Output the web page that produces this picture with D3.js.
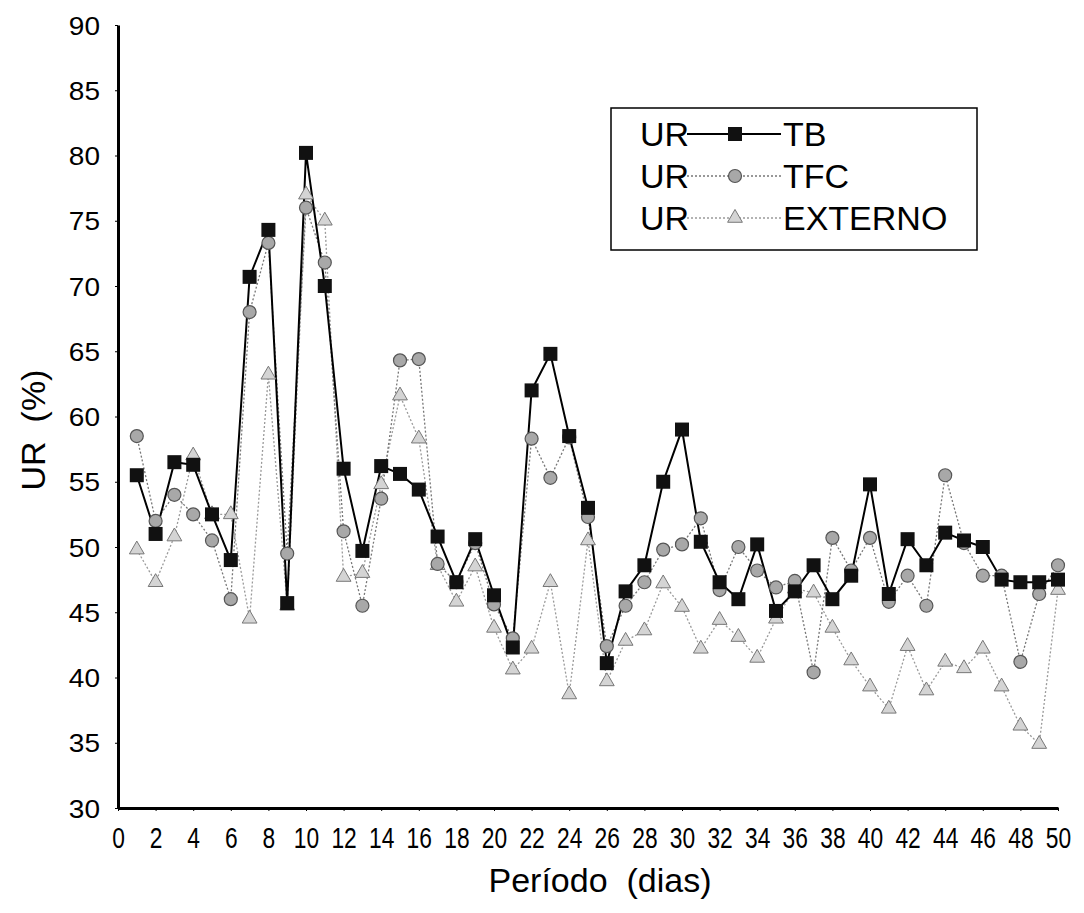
<!DOCTYPE html>
<html>
<head>
<meta charset="utf-8">
<script src="https://cdn.jsdelivr.net/npm/d3@7"></script>
<style>
  body { margin: 0; background: #fff; }
  text { font-family: "Liberation Sans", Arial, sans-serif; fill: #000; white-space: pre; }
</style>
</head>
<body>
<div id="chart"></div>
<script>
// data
var days = d3.range(1, 51);
var tb = [55.5, 51, 56.5, 56.3, 52.5, 49, 70.7, 74.3, 45.7, 80.2,
          70, 56, 49.7, 56.2, 55.6, 54.4, 50.8, 47.3, 50.6, 46.3,
          42.3, 62, 64.8, 58.5, 53, 41.1, 46.6, 48.6, 55, 59,
          50.4, 47.3, 46, 50.2, 45.1, 46.6, 48.6, 46, 47.8, 54.8,
          46.4, 50.6, 48.6, 51.1, 50.5, 50, 47.5, 47.3, 47.3, 47.5];
var tfc = [58.5, 52, 54, 52.5, 50.5, 46, 68, 73.3, 49.5, 76,
           71.8, 51.2, 45.5, 53.7, 64.3, 64.4, 48.7, 47.3, 50.3, 45.6,
           43, 58.3, 55.3, 58.4, 52.3, 42.4, 45.5, 47.3, 49.8, 50.2,
           52.2, 46.7, 50, 48.2, 46.9, 47.4, 40.4, 50.7, 48.2, 50.7,
           45.8, 47.8, 45.5, 55.5, 50.3, 47.8, 47.8, 41.2, 46.4, 48.6];
var externo = [49.8, 47.3, 50.8, 57, 52.5, 52.5, 44.5, 63.2, 45.5, 77,
               75, 47.7, 48, 54.8, 61.6, 58.3, 48.6, 45.8, 48.5, 43.8,
               40.6, 42.2, 47.3, 38.7, 50.5, 39.7, 42.8, 43.6, 47.2, 45.4,
               42.2, 44.4, 43.1, 41.5, 44.5, 46.8, 46.5, 43.8, 41.3, 39.3,
               37.6, 42.4, 39, 41.2, 40.7, 42.2, 39.3, 36.3, 34.9, 46.7];
var xTicks = d3.range(0, 51, 2);
var yTicks = d3.range(30, 91, 5);
var legendNames = ["TB", "TFC", "EXTERNO"];

var margin = {top: 25, right: 26, bottom: 105, left: 118},
    width = 1058 - margin.left,
    height = 913 - margin.top - margin.bottom;

var svg = d3.select("#chart").append("svg")
    .attr("width", 1084)
    .attr("height", 913)
  .append("g")
    .attr("transform", "translate(" + margin.left + "," + margin.top + ")");

var x = d3.scaleLinear().domain([0, 50]).range([0, width]);
var y = d3.scaleLinear().domain([30, 90]).range([height, 0]);

// axes
var xAxis = svg.append("g")
    .attr("transform", "translate(0," + height + ")")
    .call(d3.axisBottom(x).tickValues(xTicks).tickSize(3).tickSizeOuter(0));
xAxis.select(".domain").attr("stroke-width", 3);
xAxis.selectAll(".tick text")
    .style("font-size", "30px")
    .attr("y", 0).attr("dy", 0)
    .attr("transform", "translate(0,40) scale(0.76,1)");

var yAxis = svg.append("g")
    .call(d3.axisLeft(y).tickValues(yTicks).tickSize(3).tickSizeOuter(0));
yAxis.select(".domain").attr("stroke-width", 3);
yAxis.selectAll(".tick text")
    .style("font-size", "25px")
    .attr("x", 0).attr("dy", "0.36em")
    .attr("transform", "translate(-18,0) scale(1.12,1)");

// axis titles
svg.append("text")
    .attr("x", 600 - margin.left)
    .attr("y", 892 - margin.top)
    .style("text-anchor", "middle")
    .style("font-size", "34px")
    .text("Período  (dias)");

svg.append("text")
    .attr("transform", "rotate(-90)")
    .attr("x", -(430 - margin.top))
    .attr("y", 45 - margin.left)
    .style("text-anchor", "middle")
    .style("font-size", "34px")
    .text("UR  (%)");

var line = d3.line()
    .x(function(d, i) { return x(days[i]); })
    .y(function(d) { return y(d); });

// EXTERNO
svg.append("path").datum(externo)
    .attr("fill", "none").attr("stroke", "#9a9a9a")
    .attr("stroke-width", 1.3).attr("stroke-dasharray", "2,2")
    .attr("d", line);
// TFC
svg.append("path").datum(tfc)
    .attr("fill", "none").attr("stroke", "#777")
    .attr("stroke-width", 1.3).attr("stroke-dasharray", "2,2")
    .attr("d", line);
// TB
svg.append("path").datum(tb)
    .attr("fill", "none").attr("stroke", "#000")
    .attr("stroke-width", 2)
    .attr("d", line);

var tri = d3.symbol().type(d3.symbolTriangle).size(95);
svg.selectAll(".ext").data(externo).enter().append("path")
    .attr("class", "ext")
    .attr("d", tri)
    .attr("transform", function(d, i) { return "translate(" + x(days[i]) + "," + y(d) + ")"; })
    .attr("fill", "#d4d4d4").attr("stroke", "#777").attr("stroke-width", 1);

svg.selectAll(".tfc").data(tfc).enter().append("circle")
    .attr("class", "tfc")
    .attr("cx", function(d, i) { return x(days[i]); })
    .attr("cy", function(d) { return y(d); })
    .attr("r", 6.5)
    .attr("fill", "#a8a8a8").attr("stroke", "#555").attr("stroke-width", 1.2);

svg.selectAll(".tb").data(tb).enter().append("rect")
    .attr("class", "tb")
    .attr("x", function(d, i) { return x(days[i]) - 7; })
    .attr("y", function(d) { return y(d) - 7; })
    .attr("width", 14).attr("height", 14)
    .attr("fill", "#111");

// legend
var lg = svg.append("g").attr("transform", "translate(" + (611 - margin.left) + "," + (108 - margin.top) + ")");
lg.append("rect").attr("width", 366).attr("height", 142)
    .attr("fill", "#fff").attr("stroke", "#000").attr("stroke-width", 1.5);

var rows = lg.selectAll(".row").data(legendNames).enter().append("g")
    .attr("transform", function(d, i) { return "translate(0," + (26 + i * 42) + ")"; });
rows.append("text").attr("x", 29).attr("y", 12).style("font-size", "34px").text("UR");
rows.append("line").attr("x1", 76).attr("x2", 170).attr("y1", 0).attr("y2", 0)
    .attr("stroke", function(d, i) { return ["#000", "#777", "#9a9a9a"][i]; })
    .attr("stroke-width", function(d, i) { return i == 0 ? 2 : 1.3; })
    .attr("stroke-dasharray", function(d, i) { return i == 0 ? null : "2,2"; });
rows.each(function(d, i) {
  var g = d3.select(this);
  if (i == 0) g.append("rect").attr("x", 117).attr("y", -7).attr("width", 14).attr("height", 14).attr("fill", "#111");
  if (i == 1) g.append("circle").attr("cx", 124).attr("cy", 0).attr("r", 6.5)
      .attr("fill", "#a8a8a8").attr("stroke", "#555").attr("stroke-width", 1.2);
  if (i == 2) g.append("path").attr("d", tri).attr("transform", "translate(124,0)")
      .attr("fill", "#d4d4d4").attr("stroke", "#777");
});
rows.append("text").attr("x", 172).attr("y", 12).style("font-size", "34px")
    .text(function(d) { return d; });
</script>
</body>
</html>
